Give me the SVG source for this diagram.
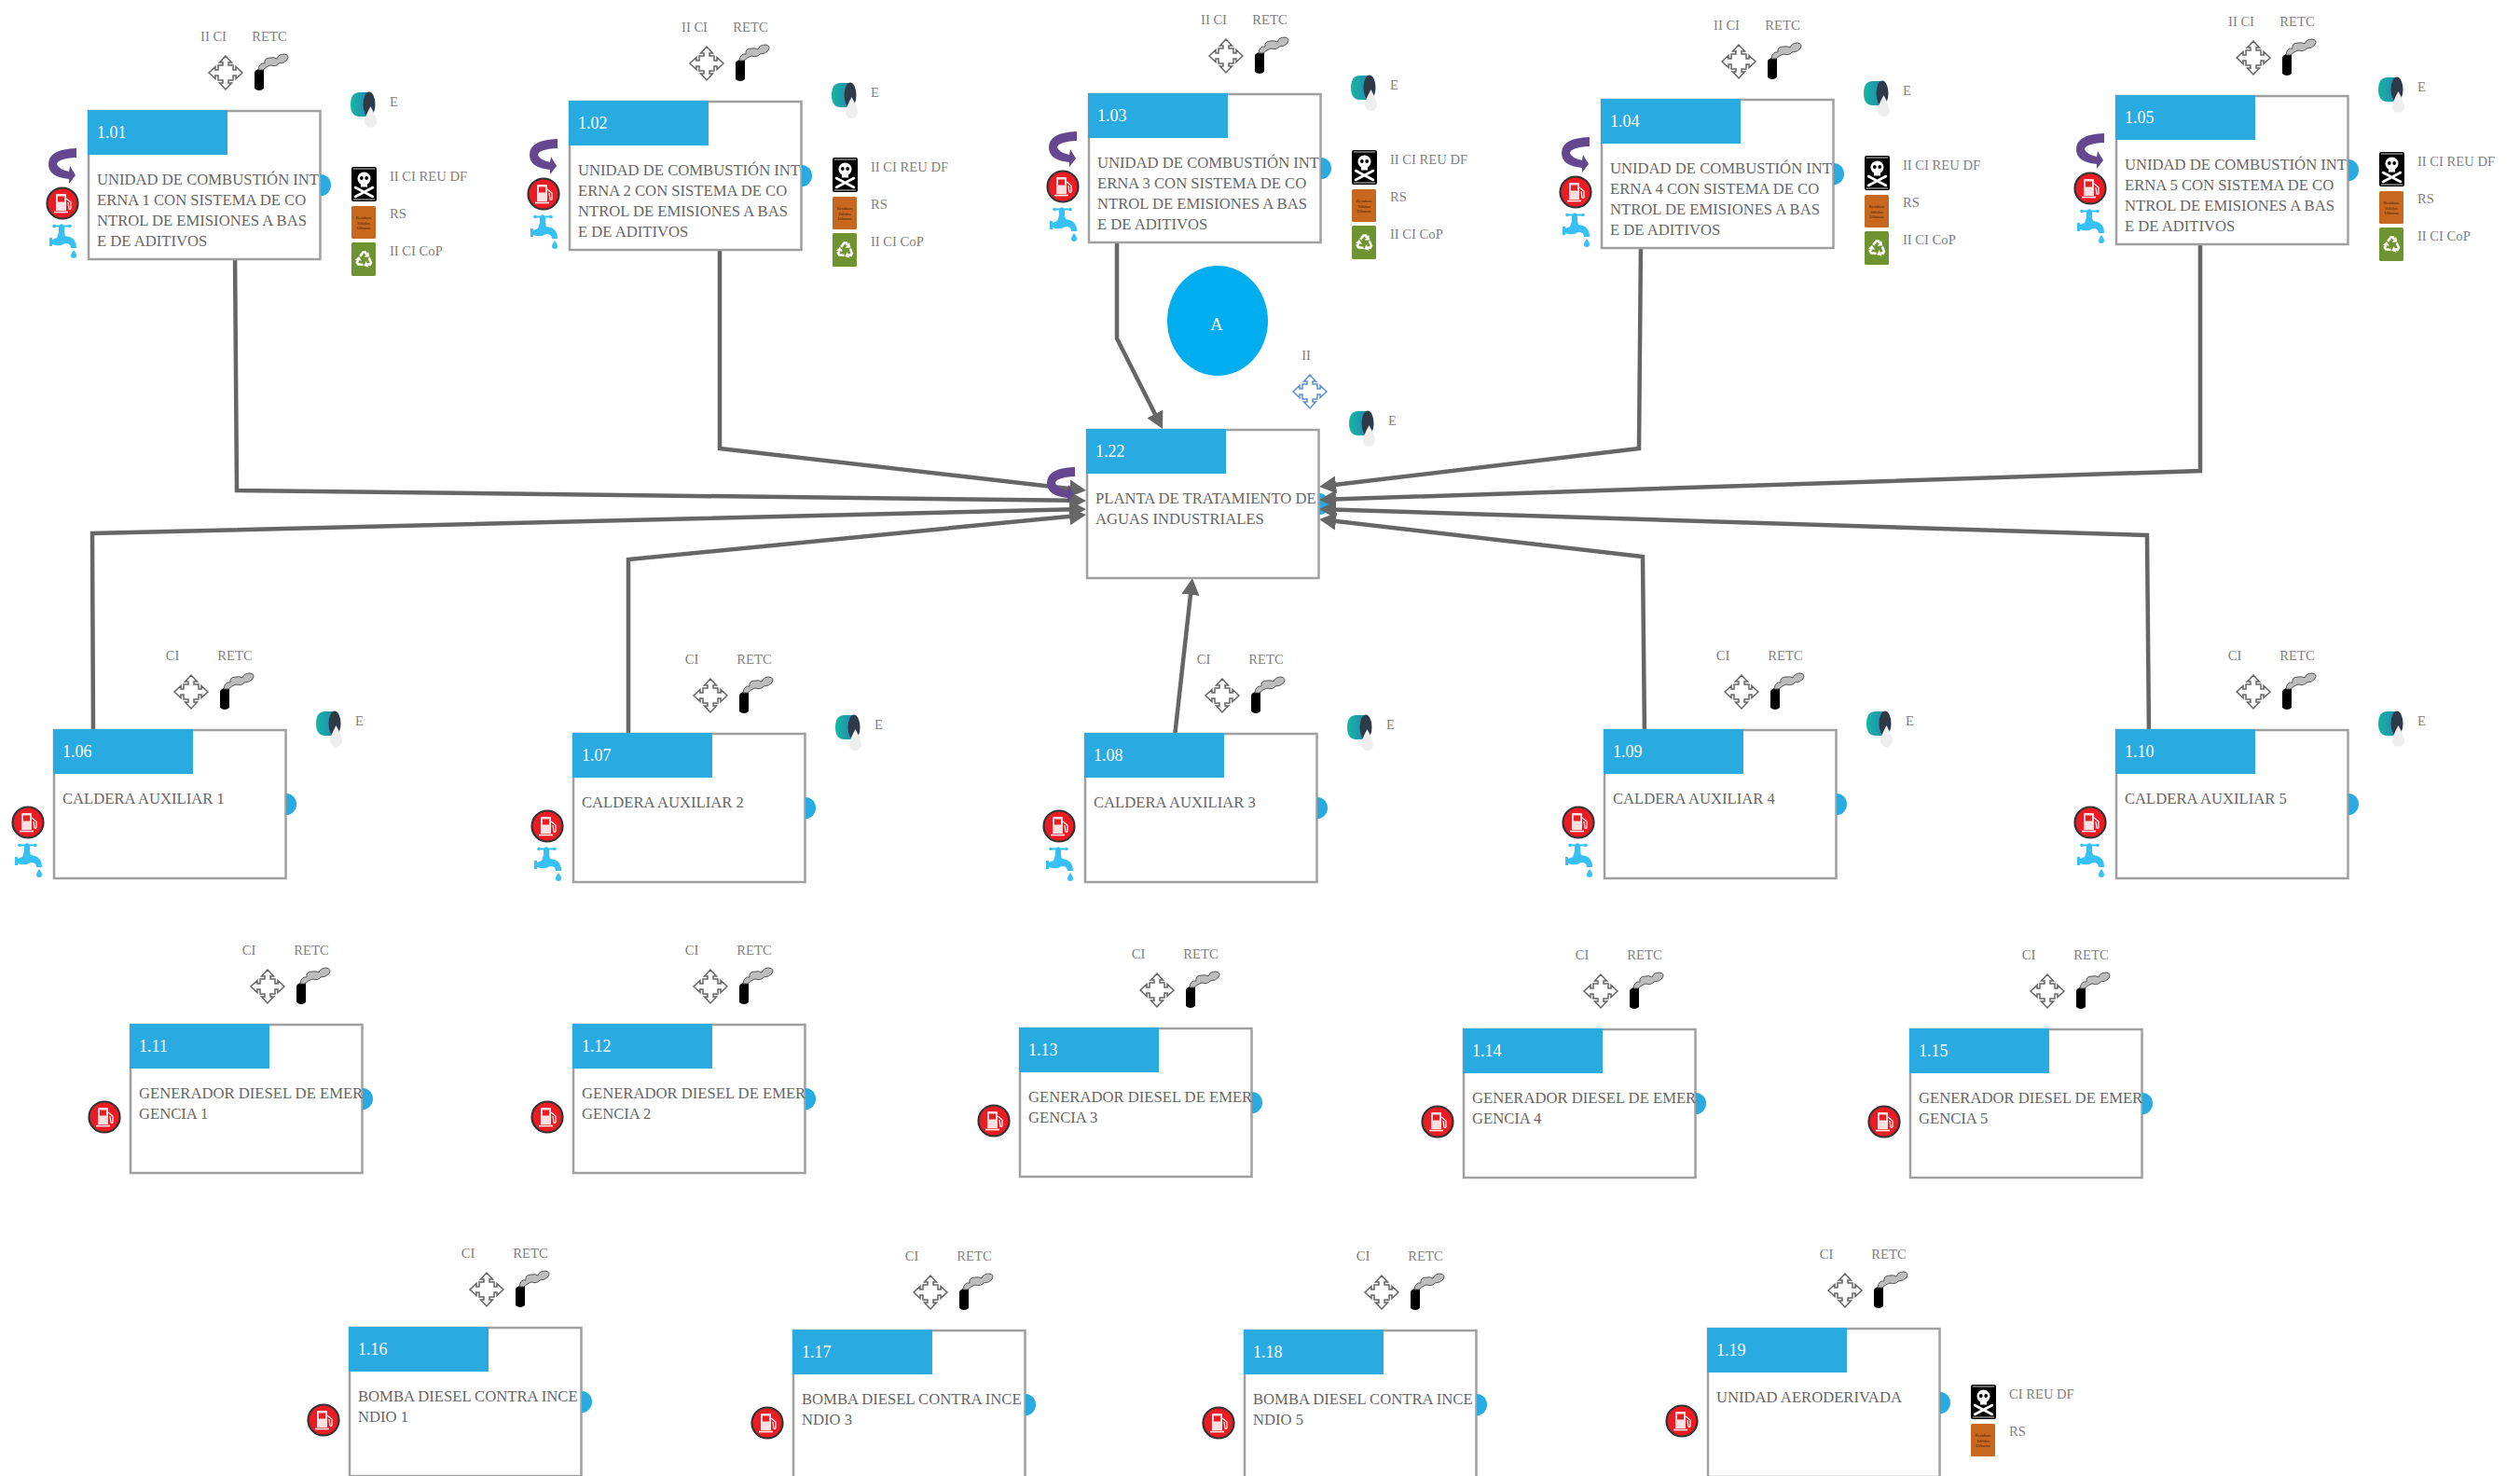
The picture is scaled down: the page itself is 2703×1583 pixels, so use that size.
<svg xmlns="http://www.w3.org/2000/svg" width="2703" height="1583" viewBox="0 0 2703 1583">
<style>
text{font-family:"Liberation Serif","Times New Roman",serif}
.box{fill:#fff;stroke:#a0a0a0;stroke-width:2.5}
.hd{fill:#29abe2}
.num{fill:#fff;font-size:18px}
.body{fill:#666;font-size:16.65px}
.lab{fill:#808080;font-size:14.6px}
.port{fill:#29abe2}
.conn{fill:none;stroke:#666;stroke-width:4.5;marker-end:url(#arrow)}
</style>
<defs>
<marker id="arrow" markerUnits="userSpaceOnUse" markerWidth="18" markerHeight="20" refX="4" refY="10" orient="auto"><path d="M0 0.500L18 10L0 19.500Z" fill="#666"/></marker>
<linearGradient id="teal" x1="0" x2="1" y1="0" y2="0"><stop offset="0" stop-color="#12b8a4"/><stop offset="1" stop-color="#2a85b0"/></linearGradient>
<g id="frame"><rect class="box" x="1" y="1" width="248.500" height="159"/><rect class="hd" x="0" y="0" width="150" height="48"/><path class="port" d="M250 69A11 11.500 0 0 1 250 92Z"/></g>
<path id="crossShape" d="M0-18L-6.500-11H-3V-8H-8V-3H-11V-6.500L-18 0L-11 6.500V3H-8V8H-3V11H-6.500L0 18L6.500 11H3V8H8V3H11V6.500L18 0L11-6.500V-3H8V-8H3V-11H6.500Z"/>
<use id="cross" href="#crossShape" x="148" y="-40" fill="#fff" stroke="#666" stroke-width="1.500"/>
<use id="crossBlue" href="#crossShape" x="240" y="-40" fill="#fff" stroke="#5a8fdc" stroke-width="1.500"/>
<g id="chimney"><path d="M179-41Q183-46 189-44V-23Q184-19 179-23Z" fill="#000"/><path d="M183-43Q184-51 190-50Q189-56 196-56Q200-57 203-55Q205-60 211-60Q217-59 214-54Q211-50 205-50Q202-46 196-48Q192-47 188-43Z" fill="#bdbdbd" stroke="#555" stroke-width="1"/></g>
<g id="bucket"><path d="M292-19H302V7H292Q282 7 282-6Q282-19 292-19Z" fill="url(#teal)"/><ellipse cx="302" cy="-6" rx="6.500" ry="13.500" fill="#2e3a47"/><path d="M303.500-4Q310 8 310 12.500A6.500 6.500 0 0 1 297 12.500Q297 8 303.500-4Z" fill="#eee"/></g>
<g id="fuel"><circle cx="-27" cy="100" r="16.500" fill="#ed1c24" stroke="#333" stroke-width="2.200"/><path d="M-34 91Q-34 90-33 90H-24Q-23 90-23 91V108H-34Z" fill="#fde0e0"/><rect x="-32" y="92.500" width="7" height="6" fill="#ed1c24"/><path d="M-36 109.500H-21" stroke="#fff" stroke-width="1.600"/><path d="M-23 95L-18 99V105Q-18 107-20 106L-21 99" fill="none" stroke="#fff" stroke-width="1.200"/></g>
<g id="tap" fill="#36c0f5"><path d="M-37 123.500H-18V125.500H-37Z"/><circle cx="-36" cy="124.500" r="1.800"/><circle cx="-28" cy="124.500" r="2.200"/><circle cx="-19" cy="124.500" r="1.800"/><path d="M-41 137H-38V139L-33 137L-31 131V125H-25V131L-24 135Q-12 136-12 148H-18Q-18 143-24 143Q-30 147-38 144V146H-41Z"/><path d="M-15 150Q-12 154-12 156A3 3 0 0 1-18 156Q-18 154-15 150Z"/></g>
<path id="swirl" d="M-12 41V51Q-32 52-33 58Q-32 63-20 66L-19 60L-13 70L-20 79V74Q-42 72-42 58Q-42 42-12 41Z" fill="#65478f"/>
<g id="poison"><rect x="283" y="61" width="27" height="37" rx="2" fill="#000"/><path d="M285 63H308M285 96H308" stroke="#fff" stroke-width=".8"/><circle cx="296.500" cy="73.500" r="7" fill="#fff"/><rect x="293" y="78" width="7" height="4.500" fill="#fff"/><circle cx="293.800" cy="73" r="1.900" fill="#000"/><circle cx="299.200" cy="73" r="1.900" fill="#000"/><path d="M287 83L306 93M306 83L287 93" stroke="#fff" stroke-width="2.600" stroke-linecap="round"/></g>
<g id="rsBarrel"><rect x="283" y="103" width="26" height="35" rx="1.500" fill="#c8681f"/><text x="296" y="117" text-anchor="middle" font-size="4.500" fill="#3d2008">Residuos</text><text x="296" y="122.500" text-anchor="middle" font-size="4.500" fill="#3d2008">Sólidos</text><text x="296" y="128" text-anchor="middle" font-size="4.500" fill="#3d2008">Urbanos</text></g>
<g id="recArrow"><path d="M-4.300-3.600L-1-8H1.500L2.400-5.600" fill="none" stroke="#fff" stroke-width="2.600"/><path d="M4.600-8.500L5.900-3L0.200-2.700Z" fill="#fff"/></g>
<g id="copBarrel"><rect x="283" y="142" width="26" height="36" rx="1.500" fill="#6f9330"/><use href="#recArrow" transform="translate(296.500,160.500)"/><use href="#recArrow" transform="translate(296.500,160.500) rotate(120)"/><use href="#recArrow" transform="translate(296.500,160.500) rotate(240)"/></g>
</defs>
<rect width="2703" height="1583" fill="#fff"/>
<path class="port" d="M1415 529A11 11.500 0 0 1 1415 552Z"/>
<g id="connectors">
<path class="conn" d="M252 270L254 526L1151 536.800"/>
<path class="conn" d="M772 260L772 481L1151.100 524.400"/>
<path class="conn" d="M1198 250L1198 363L1240.700 447.500"/>
<path class="conn" d="M1760 260L1758 481L1429 520.300"/>
<path class="conn" d="M2360 255L2360 505L1429 535.500"/>
<path class="conn" d="M100 790L99 572L1151 546.300"/>
<path class="conn" d="M674 790L674 600L1151.100 553.400"/>
<path class="conn" d="M1260 790L1277.400 633.900"/>
<path class="conn" d="M1764 790L1762 597L1429 558.600"/>
<path class="conn" d="M2305 790L2303 574L1429 546.400"/>
</g>
<g id="n101" transform="translate(94,118)"><use href="#frame"/><text class="num" x="10" y="29.500">1.01</text><text class="body" x="10" y="80">UNIDAD DE COMBUSTIÓN INT<tspan x="10" dy="22">ERNA 1 CON SISTEMA DE CO</tspan><tspan x="10" dy="22">NTROL DE EMISIONES A BAS</tspan><tspan x="10" dy="22">E DE ADITIVOS</tspan></text><text class="lab" x="135" y="-74" text-anchor="middle">II CI</text><text class="lab" x="195" y="-74" text-anchor="middle">RETC</text><use href="#cross"/><use href="#chimney"/><use href="#bucket"/><text class="lab" x="324" y="-4">E</text><use href="#poison"/><text class="lab" x="324" y="76">II CI REU DF</text><use href="#rsBarrel"/><text class="lab" x="324" y="116">RS</text><use href="#copBarrel"/><text class="lab" x="324" y="156">II CI CoP</text><use href="#swirl"/><use href="#fuel"/><use href="#tap"/></g>
<g id="n102" transform="translate(610,108)"><use href="#frame"/><text class="num" x="10" y="29.500">1.02</text><text class="body" x="10" y="80">UNIDAD DE COMBUSTIÓN INT<tspan x="10" dy="22">ERNA 2 CON SISTEMA DE CO</tspan><tspan x="10" dy="22">NTROL DE EMISIONES A BAS</tspan><tspan x="10" dy="22">E DE ADITIVOS</tspan></text><text class="lab" x="135" y="-74" text-anchor="middle">II CI</text><text class="lab" x="195" y="-74" text-anchor="middle">RETC</text><use href="#cross"/><use href="#chimney"/><use href="#bucket"/><text class="lab" x="324" y="-4">E</text><use href="#poison"/><text class="lab" x="324" y="76">II CI REU DF</text><use href="#rsBarrel"/><text class="lab" x="324" y="116">RS</text><use href="#copBarrel"/><text class="lab" x="324" y="156">II CI CoP</text><use href="#swirl"/><use href="#fuel"/><use href="#tap"/></g>
<g id="n103" transform="translate(1167,100)"><use href="#frame"/><text class="num" x="10" y="29.500">1.03</text><text class="body" x="10" y="80">UNIDAD DE COMBUSTIÓN INT<tspan x="10" dy="22">ERNA 3 CON SISTEMA DE CO</tspan><tspan x="10" dy="22">NTROL DE EMISIONES A BAS</tspan><tspan x="10" dy="22">E DE ADITIVOS</tspan></text><text class="lab" x="135" y="-74" text-anchor="middle">II CI</text><text class="lab" x="195" y="-74" text-anchor="middle">RETC</text><use href="#cross"/><use href="#chimney"/><use href="#bucket"/><text class="lab" x="324" y="-4">E</text><use href="#poison"/><text class="lab" x="324" y="76">II CI REU DF</text><use href="#rsBarrel"/><text class="lab" x="324" y="116">RS</text><use href="#copBarrel"/><text class="lab" x="324" y="156">II CI CoP</text><use href="#swirl"/><use href="#fuel"/><use href="#tap"/></g>
<g id="n104" transform="translate(1717,106)"><use href="#frame"/><text class="num" x="10" y="29.500">1.04</text><text class="body" x="10" y="80">UNIDAD DE COMBUSTIÓN INT<tspan x="10" dy="22">ERNA 4 CON SISTEMA DE CO</tspan><tspan x="10" dy="22">NTROL DE EMISIONES A BAS</tspan><tspan x="10" dy="22">E DE ADITIVOS</tspan></text><text class="lab" x="135" y="-74" text-anchor="middle">II CI</text><text class="lab" x="195" y="-74" text-anchor="middle">RETC</text><use href="#cross"/><use href="#chimney"/><use href="#bucket"/><text class="lab" x="324" y="-4">E</text><use href="#poison"/><text class="lab" x="324" y="76">II CI REU DF</text><use href="#rsBarrel"/><text class="lab" x="324" y="116">RS</text><use href="#copBarrel"/><text class="lab" x="324" y="156">II CI CoP</text><use href="#swirl"/><use href="#fuel"/><use href="#tap"/></g>
<g id="n105" transform="translate(2269,102)"><use href="#frame"/><text class="num" x="10" y="29.500">1.05</text><text class="body" x="10" y="80">UNIDAD DE COMBUSTIÓN INT<tspan x="10" dy="22">ERNA 5 CON SISTEMA DE CO</tspan><tspan x="10" dy="22">NTROL DE EMISIONES A BAS</tspan><tspan x="10" dy="22">E DE ADITIVOS</tspan></text><text class="lab" x="135" y="-74" text-anchor="middle">II CI</text><text class="lab" x="195" y="-74" text-anchor="middle">RETC</text><use href="#cross"/><use href="#chimney"/><use href="#bucket"/><text class="lab" x="324" y="-4">E</text><use href="#poison"/><text class="lab" x="324" y="76">II CI REU DF</text><use href="#rsBarrel"/><text class="lab" x="324" y="116">RS</text><use href="#copBarrel"/><text class="lab" x="324" y="156">II CI CoP</text><use href="#swirl"/><use href="#fuel"/><use href="#tap"/></g>
<g id="nA"><ellipse cx="1306" cy="344" rx="54" ry="59" fill="#00aeef"/><text x="1305" y="354" text-anchor="middle" font-size="18.500" fill="#fff">A</text></g>
<g id="n122" transform="translate(1165,460)"><rect class="box" x="1" y="1" width="248.500" height="159"/><rect class="hd" x="0" y="0" width="150" height="48"/><text class="num" x="10" y="29.500">1.22</text><text class="body" x="10" y="80">PLANTA DE TRATAMIENTO DE<tspan x="10" dy="22">AGUAS INDUSTRIALES</tspan></text><text class="lab" x="236" y="-74" text-anchor="middle">II</text><use href="#crossBlue"/><use href="#bucket"/><text class="lab" x="324" y="-4">E</text><use href="#swirl"/></g>
<g id="n106" transform="translate(57,782)"><use href="#frame"/><text class="num" x="10" y="29.500">1.06</text><text class="body" x="10" y="80">CALDERA AUXILIAR 1</text><text class="lab" x="128" y="-74" text-anchor="middle">CI</text><text class="lab" x="195" y="-74" text-anchor="middle">RETC</text><use href="#cross"/><use href="#chimney"/><use href="#bucket"/><text class="lab" x="324" y="-4">E</text><use href="#fuel"/><use href="#tap"/></g>
<g id="n107" transform="translate(614,786)"><use href="#frame"/><text class="num" x="10" y="29.500">1.07</text><text class="body" x="10" y="80">CALDERA AUXILIAR 2</text><text class="lab" x="128" y="-74" text-anchor="middle">CI</text><text class="lab" x="195" y="-74" text-anchor="middle">RETC</text><use href="#cross"/><use href="#chimney"/><use href="#bucket"/><text class="lab" x="324" y="-4">E</text><use href="#fuel"/><use href="#tap"/></g>
<g id="n108" transform="translate(1163,786)"><use href="#frame"/><text class="num" x="10" y="29.500">1.08</text><text class="body" x="10" y="80">CALDERA AUXILIAR 3</text><text class="lab" x="128" y="-74" text-anchor="middle">CI</text><text class="lab" x="195" y="-74" text-anchor="middle">RETC</text><use href="#cross"/><use href="#chimney"/><use href="#bucket"/><text class="lab" x="324" y="-4">E</text><use href="#fuel"/><use href="#tap"/></g>
<g id="n109" transform="translate(1720,782)"><use href="#frame"/><text class="num" x="10" y="29.500">1.09</text><text class="body" x="10" y="80">CALDERA AUXILIAR 4</text><text class="lab" x="128" y="-74" text-anchor="middle">CI</text><text class="lab" x="195" y="-74" text-anchor="middle">RETC</text><use href="#cross"/><use href="#chimney"/><use href="#bucket"/><text class="lab" x="324" y="-4">E</text><use href="#fuel"/><use href="#tap"/></g>
<g id="n110" transform="translate(2269,782)"><use href="#frame"/><text class="num" x="10" y="29.500">1.10</text><text class="body" x="10" y="80">CALDERA AUXILIAR 5</text><text class="lab" x="128" y="-74" text-anchor="middle">CI</text><text class="lab" x="195" y="-74" text-anchor="middle">RETC</text><use href="#cross"/><use href="#chimney"/><use href="#bucket"/><text class="lab" x="324" y="-4">E</text><use href="#fuel"/><use href="#tap"/></g>
<g id="n111" transform="translate(139,1098)"><use href="#frame"/><text class="num" x="10" y="29.500">1.11</text><text class="body" x="10" y="80">GENERADOR DIESEL DE EMER<tspan x="10" dy="22">GENCIA 1</tspan></text><text class="lab" x="128" y="-74" text-anchor="middle">CI</text><text class="lab" x="195" y="-74" text-anchor="middle">RETC</text><use href="#cross"/><use href="#chimney"/><use href="#fuel"/></g>
<g id="n112" transform="translate(614,1098)"><use href="#frame"/><text class="num" x="10" y="29.500">1.12</text><text class="body" x="10" y="80">GENERADOR DIESEL DE EMER<tspan x="10" dy="22">GENCIA 2</tspan></text><text class="lab" x="128" y="-74" text-anchor="middle">CI</text><text class="lab" x="195" y="-74" text-anchor="middle">RETC</text><use href="#cross"/><use href="#chimney"/><use href="#fuel"/></g>
<g id="n113" transform="translate(1093,1102)"><use href="#frame"/><text class="num" x="10" y="29.500">1.13</text><text class="body" x="10" y="80">GENERADOR DIESEL DE EMER<tspan x="10" dy="22">GENCIA 3</tspan></text><text class="lab" x="128" y="-74" text-anchor="middle">CI</text><text class="lab" x="195" y="-74" text-anchor="middle">RETC</text><use href="#cross"/><use href="#chimney"/><use href="#fuel"/></g>
<g id="n114" transform="translate(1569,1103)"><use href="#frame"/><text class="num" x="10" y="29.500">1.14</text><text class="body" x="10" y="80">GENERADOR DIESEL DE EMER<tspan x="10" dy="22">GENCIA 4</tspan></text><text class="lab" x="128" y="-74" text-anchor="middle">CI</text><text class="lab" x="195" y="-74" text-anchor="middle">RETC</text><use href="#cross"/><use href="#chimney"/><use href="#fuel"/></g>
<g id="n115" transform="translate(2048,1103)"><use href="#frame"/><text class="num" x="10" y="29.500">1.15</text><text class="body" x="10" y="80">GENERADOR DIESEL DE EMER<tspan x="10" dy="22">GENCIA 5</tspan></text><text class="lab" x="128" y="-74" text-anchor="middle">CI</text><text class="lab" x="195" y="-74" text-anchor="middle">RETC</text><use href="#cross"/><use href="#chimney"/><use href="#fuel"/></g>
<g id="n116" transform="translate(374,1423)"><use href="#frame"/><text class="num" x="10" y="29.500">1.16</text><text class="body" x="10" y="80">BOMBA DIESEL CONTRA INCE<tspan x="10" dy="22">NDIO 1</tspan></text><text class="lab" x="128" y="-74" text-anchor="middle">CI</text><text class="lab" x="195" y="-74" text-anchor="middle">RETC</text><use href="#cross"/><use href="#chimney"/><use href="#fuel"/></g>
<g id="n117" transform="translate(850,1426)"><use href="#frame"/><text class="num" x="10" y="29.500">1.17</text><text class="body" x="10" y="80">BOMBA DIESEL CONTRA INCE<tspan x="10" dy="22">NDIO 3</tspan></text><text class="lab" x="128" y="-74" text-anchor="middle">CI</text><text class="lab" x="195" y="-74" text-anchor="middle">RETC</text><use href="#cross"/><use href="#chimney"/><use href="#fuel"/></g>
<g id="n118" transform="translate(1334,1426)"><use href="#frame"/><text class="num" x="10" y="29.500">1.18</text><text class="body" x="10" y="80">BOMBA DIESEL CONTRA INCE<tspan x="10" dy="22">NDIO 5</tspan></text><text class="lab" x="128" y="-74" text-anchor="middle">CI</text><text class="lab" x="195" y="-74" text-anchor="middle">RETC</text><use href="#cross"/><use href="#chimney"/><use href="#fuel"/></g>
<g id="n119" transform="translate(1831,1424)"><use href="#frame"/><text class="num" x="10" y="29.500">1.19</text><text class="body" x="10" y="80">UNIDAD AERODERIVADA</text><text class="lab" x="128" y="-74" text-anchor="middle">CI</text><text class="lab" x="195" y="-74" text-anchor="middle">RETC</text><use href="#cross"/><use href="#chimney"/><use href="#fuel"/><use href="#poison"/><text class="lab" x="324" y="76">CI REU DF</text><use href="#rsBarrel"/><text class="lab" x="324" y="116">RS</text></g>
</svg>
